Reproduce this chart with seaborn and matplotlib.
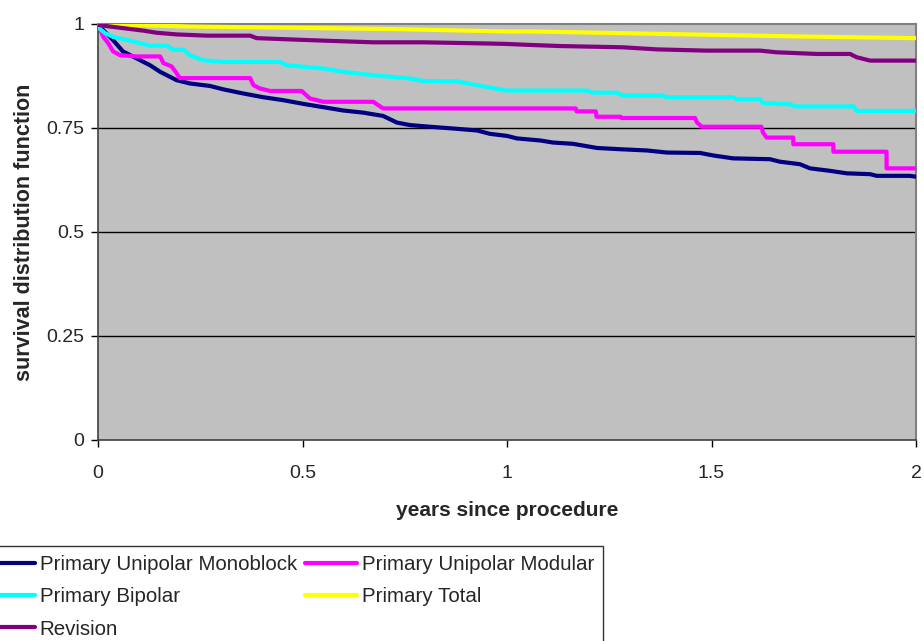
import pandas as pd
import seaborn as sns
import matplotlib.pyplot as plt

# Survival curves (years, survival)
mono_t = [0, 0.010, 0.037, 0.061, 0.095, 0.127, 0.152, 0.192, 0.225, 0.274, 0.306, 0.355,
          0.404, 0.452, 0.502, 0.551, 0.600, 0.648, 0.697, 0.731, 0.763, 0.812, 0.878,
          0.927, 0.958, 1.000, 1.024, 1.081, 1.113, 1.161, 1.220, 1.276, 1.342, 1.391,
          1.472, 1.504, 1.553, 1.643, 1.667, 1.716, 1.741, 1.790, 1.831, 1.888, 1.904,
          1.985, 2.0]
mono_s = [1.0, 0.988, 0.961, 0.934, 0.917, 0.901, 0.885, 0.865, 0.857, 0.851, 0.843, 0.833,
          0.824, 0.817, 0.808, 0.800, 0.792, 0.787, 0.779, 0.763, 0.757, 0.753, 0.748,
          0.744, 0.736, 0.731, 0.725, 0.720, 0.715, 0.712, 0.702, 0.699, 0.696, 0.691,
          0.690, 0.684, 0.677, 0.675, 0.669, 0.663, 0.653, 0.647, 0.641, 0.639, 0.635,
          0.635, 0.633]

modular_t = [0, 0.005, 0.013, 0.025, 0.037, 0.054, 0.095, 0.152, 0.160, 0.180, 0.192, 0.200,
             0.372, 0.380, 0.396, 0.421, 0.498, 0.518, 0.551, 0.673, 0.697, 1.168, 1.170,
             1.217, 1.219, 1.278, 1.280, 1.460, 1.464, 1.476, 1.622, 1.626, 1.635, 1.700,
             1.700, 1.798, 1.798, 1.928, 1.928, 2.0]
modular_s = [1.0, 0.988, 0.969, 0.954, 0.934, 0.925, 0.922, 0.922, 0.906, 0.898, 0.882, 0.870,
             0.870, 0.853, 0.845, 0.839, 0.839, 0.821, 0.813, 0.813, 0.797, 0.797, 0.790,
             0.790, 0.777, 0.777, 0.774, 0.774, 0.764, 0.753, 0.753, 0.739, 0.727, 0.727,
             0.711, 0.711, 0.693, 0.693, 0.653, 0.653]

bipolar_t = [0, 0.005, 0.017, 0.037, 0.070, 0.103, 0.127, 0.168, 0.184, 0.209, 0.225, 0.257,
             0.306, 0.445, 0.461, 0.551, 0.600, 0.673, 0.763, 0.795, 0.877, 0.926, 0.999,
             1.195, 1.210, 1.268, 1.284, 1.380, 1.390, 1.553, 1.562, 1.619, 1.627, 1.692,
             1.704, 1.847, 1.855, 2.0]
bipolar_s = [1.0, 0.988, 0.978, 0.969, 0.962, 0.954, 0.948, 0.948, 0.938, 0.938, 0.925, 0.913,
             0.909, 0.909, 0.901, 0.893, 0.885, 0.877, 0.869, 0.863, 0.862, 0.853, 0.840,
             0.840, 0.835, 0.835, 0.828, 0.828, 0.824, 0.824, 0.819, 0.819, 0.810, 0.807,
             0.802, 0.802, 0.791, 0.791]

total_t = [0, 0.225, 0.714, 1.0, 1.064, 1.390, 1.716, 2.0]
total_s = [1.0, 0.994, 0.988, 0.982, 0.982, 0.976, 0.970, 0.966]

revision_t = [0, 0.029, 0.062, 0.111, 0.143, 0.192, 0.266, 0.372, 0.388, 0.469, 0.551, 0.673,
              0.795, 0.958, 1.000, 1.048, 1.130, 1.284, 1.366, 1.488, 1.619, 1.659, 1.757,
              1.839, 1.855, 1.888, 2.0]
revision_s = [0.998, 0.994, 0.990, 0.984, 0.979, 0.975, 0.972, 0.972, 0.966, 0.963, 0.960, 0.956,
              0.956, 0.953, 0.952, 0.950, 0.947, 0.944, 0.939, 0.936, 0.936, 0.932, 0.928,
              0.928, 0.920, 0.912, 0.912]

series = ['Primary Unipolar Monoblock', 'Primary Unipolar Modular', 'Primary Bipolar',
          'Primary Total', 'Revision']
colors = ['#000080', '#FF00FF', '#00FFFF', '#FFFF00', '#800080']

frames = []
for name, t, s in zip(series, [mono_t, modular_t, bipolar_t, total_t, revision_t],
                      [mono_s, modular_s, bipolar_s, total_s, revision_s]):
    frames.append(pd.DataFrame({'years': t, 'survival': s, 'group': name}))
df = pd.concat(frames, ignore_index=True)

sns.set_style('white')
plt.rcParams['font.family'] = ['Liberation Sans', 'DejaVu Sans']

fig = plt.figure(figsize=(9.24, 6.41), dpi=100)
ax = fig.add_axes([98 / 924, 1 - 440 / 641, (916 - 98) / 924, (440 - 24) / 641])
ax.set_facecolor('#C0C0C0')

for y in [0.25, 0.5, 0.75]:
    ax.axhline(y, color='black', lw=1, zorder=1)

sns.lineplot(data=df, x='years', y='survival', hue='group', hue_order=series,
             palette=colors, estimator=None, sort=False, lw=3, ax=ax, legend=False, zorder=3)

ax.set_xlim(0, 2)
ax.set_ylim(0, 1)
ax.set_xticks([0, 0.5, 1, 1.5, 2])
ax.set_xticklabels(['0', '0.5', '1', '1.5', '2'])
ax.set_yticks([0, 0.25, 0.5, 0.75, 1])
ax.set_yticklabels(['0', '0.25', '0.5', '0.75', '1'])
ax.tick_params(axis='both', direction='out', length=5, width=1, color='black',
               labelsize=14, bottom=True, left=True)
ax.tick_params(axis='x', pad=13)
ax.tick_params(axis='y', pad=5)
for side in ['top', 'right']:
    ax.spines[side].set_color('#808080')
    ax.spines[side].set_linewidth(1.5)
for side in ['left', 'bottom']:
    ax.spines[side].set_color('#404040')
    ax.spines[side].set_linewidth(1.2)

ax.set_xlabel('years since procedure', fontsize=15, fontweight='bold', labelpad=14)
ax.set_ylabel('survival distribution function', fontsize=15.5, fontweight='bold', labelpad=8)

handles = [plt.Line2D([], [], color=c, lw=3) for c in colors]
order = [0, 2, 4, 1, 3]
leg = fig.legend([handles[i] for i in order], [series[i] for i in order],
                 loc='upper left', bbox_to_anchor=(-26 / 924, 1 - 546 / 641), ncol=2,
                 fontsize=14.8, frameon=True, fancybox=False, handlelength=2.5,
                 handletextpad=0.25, columnspacing=0.4, labelspacing=0.64,
                 borderpad=0.45, borderaxespad=0)
leg.get_frame().set_edgecolor('black')
leg.get_frame().set_linewidth(1)

fig.savefig('out.png', dpi=100)
